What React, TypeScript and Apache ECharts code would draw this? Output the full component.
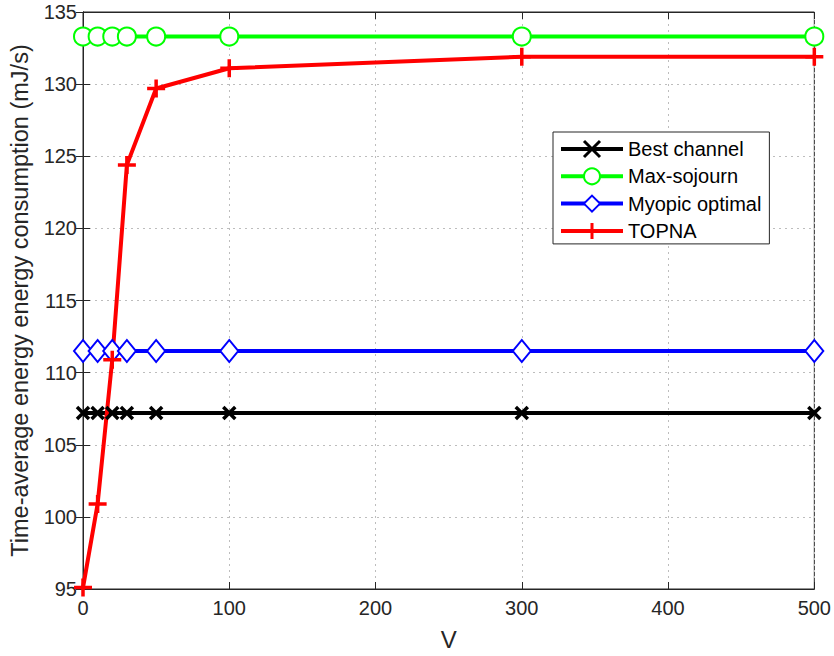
import React, { useEffect, useRef } from "react";
import * as echarts from "echarts";

const vValues = [0, 10, 20, 30, 50, 100, 300, 500];
const bestChannel = [107.2, 107.2, 107.2, 107.2, 107.2, 107.2, 107.2, 107.2];
const maxSojourn = [133.3, 133.3, 133.3, 133.3, 133.3, 133.3, 133.3, 133.3];
const myopicOptimal = [111.5, 111.5, 111.5, 111.5, 111.5, 111.5, 111.5, 111.5];
const topna = [95.1, 100.9, 110.9, 124.4, 129.7, 131.1, 131.9, 131.9];
const seriesNames = ["Best channel", "Max-sojourn", "Myopic optimal", "TOPNA"];

const FONT = "Liberation Sans, Arial, Helvetica, sans-serif";
const TXT = "#262626";

function pairs(ys: number[]) {
  return vValues.map((x, i) => [x, ys[i]]);
}

export default function App() {
  const ref = useRef<HTMLDivElement>(null);
  useEffect(() => {
    if (!ref.current) return;
    const chart = echarts.init(ref.current, undefined, { renderer: "svg" });
    const gridLine = { show: true, lineStyle: { color: "#bdbdbd", type: [2, 4] as any, width: 1 } };
    const axisLine = { show: true, lineStyle: { color: TXT, width: 1 } };
    const tick = { show: true, inside: true, length: 7, lineStyle: { color: TXT } };
    const mk = (name: string, data: number[], color: string, symbol: string, size: number | number[]) => ({
      name,
      type: "line",
      data: pairs(data),
      symbol,
      symbolSize: size,
      showAllSymbol: true,
      lineStyle: { color, width: 4 },
      itemStyle: { color, borderColor: color, borderWidth: 3.5 },
      z: 3,
    });
    chart.setOption({
      animation: false,
      backgroundColor: "#ffffff",
      textStyle: { fontFamily: FONT },
      grid: { left: 82, right: 18, top: 12, bottom: 67, show: true, borderColor: TXT, borderWidth: 1 },
      legend: {
        orient: "vertical",
        left: 553,
        top: 132,
        itemWidth: 62,
        itemHeight: 20,
        itemGap: 7.3,
        padding: [7, 8, 3, 6],
        backgroundColor: "#ffffff",
        borderColor: TXT,
        borderWidth: 1,
        borderRadius: 0,
        lineStyle: { width: 4 },
        itemStyle: { borderWidth: 3 },
        textStyle: { fontFamily: FONT, fontSize: 20, color: "#000" },
        data: seriesNames,
      },
      xAxis: [
        {
          type: "value",
          min: 0,
          max: 500,
          interval: 100,
          name: "V",
          nameLocation: "middle",
          nameGap: 38,
          nameTextStyle: { fontFamily: FONT, fontSize: 24, color: TXT },
          axisLine,
          axisTick: tick,
          axisLabel: { fontFamily: FONT, fontSize: 20, color: TXT, margin: 9 },
          splitLine: gridLine,
        },
        {
          type: "value",
          position: "top",
          min: 0,
          max: 500,
          interval: 100,
          axisLine,
          axisTick: tick,
          axisLabel: { show: false },
          splitLine: { show: false },
        },
      ],
      yAxis: [
        {
          type: "value",
          min: 95,
          max: 135,
          interval: 5,
          name: "Time-average energy energy consumption (mJ/s)",
          nameLocation: "middle",
          nameGap: 51,
          nameTextStyle: { fontFamily: FONT, fontSize: 23.5, color: TXT },
          axisLine,
          axisTick: tick,
          axisLabel: { fontFamily: FONT, fontSize: 20, color: TXT, margin: 6 },
          splitLine: gridLine,
        },
        {
          type: "value",
          position: "right",
          min: 95,
          max: 135,
          interval: 5,
          axisLine,
          axisTick: tick,
          axisLabel: { show: false },
          splitLine: { show: false },
        },
      ],
      series: [
        mk(seriesNames[0], bestChannel, "#000000", "path://M0,0L10,10M10,0L0,10", 12),
        mk(seriesNames[1], maxSojourn, "#00ff00", "emptyCircle", 18),
        mk(seriesNames[2], myopicOptimal, "#0000ff", "emptyDiamond", [18, 22]),
        mk(seriesNames[3], topna, "#ff0000", "path://M5,0L5,10M0,5L10,5", 18),
      ],
    });
    return () => chart.dispose();
  }, []);
  return <div ref={ref} style={{ width: 834, height: 656, position: "absolute", left: 0, top: 0 }} />;
}
